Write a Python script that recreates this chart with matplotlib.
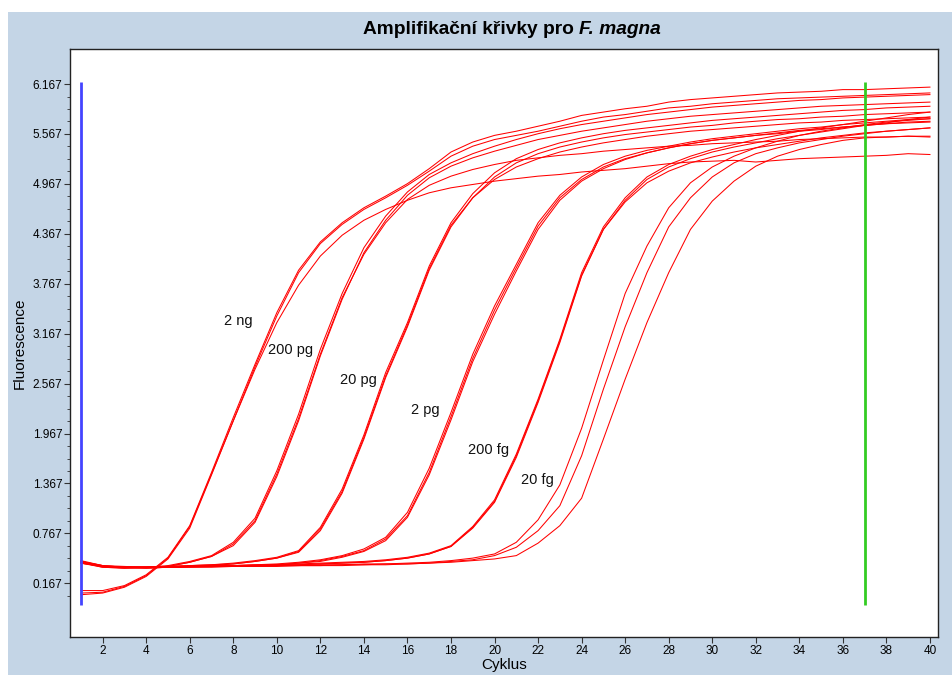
import matplotlib
matplotlib.use("Agg")
import matplotlib.pyplot as plt
from matplotlib.patches import Rectangle
from matplotlib.ticker import FixedLocator

plt.rcParams['font.family'] = ['Liberation Sans', 'DejaVu Sans']

# fluorescence per cycle (cycles 1..40)
ng2_a = [0.08, 0.08, 0.14, 0.27, 0.48, 0.86, 1.50, 2.16, 2.80, 3.42, 3.93, 4.27, 4.50, 4.68, 4.82, 4.97, 5.15, 5.35, 5.47, 5.55,
         5.60, 5.66, 5.72, 5.79, 5.83, 5.87, 5.90, 5.95, 5.98, 6.00, 6.02, 6.04, 6.06, 6.07, 6.08, 6.10, 6.10, 6.11, 6.12, 6.13]
ng2_b = [0.03, 0.05, 0.12, 0.25, 0.46, 0.83, 1.47, 2.12, 2.77, 3.38, 3.90, 4.25, 4.48, 4.66, 4.80, 4.95, 5.12, 5.30, 5.42, 5.50,
         5.55, 5.60, 5.66, 5.72, 5.77, 5.80, 5.84, 5.88, 5.90, 5.93, 5.95, 5.97, 5.99, 6.00, 6.01, 6.02, 6.03, 6.04, 6.05, 6.06]
ng2_c = [0.05, 0.06, 0.13, 0.26, 0.47, 0.85, 1.48, 2.12, 2.74, 3.30, 3.75, 4.10, 4.35, 4.53, 4.66, 4.77, 4.86, 4.92, 4.96, 5.00,
         5.03, 5.06, 5.08, 5.11, 5.13, 5.15, 5.18, 5.21, 5.23, 5.24, 5.25, 5.23, 5.25, 5.27, 5.28, 5.29, 5.30, 5.31, 5.33, 5.32]

pg200_a = [0.43, 0.38, 0.36, 0.36, 0.38, 0.43, 0.50, 0.66, 0.95, 1.52, 2.20, 2.98, 3.65, 4.20, 4.58, 4.87, 5.08, 5.22, 5.33, 5.42,
           5.50, 5.57, 5.63, 5.68, 5.72, 5.76, 5.80, 5.83, 5.86, 5.89, 5.91, 5.93, 5.95, 5.97, 5.98, 6.00, 6.01, 6.02, 6.03, 6.04]
pg200_b = [0.42, 0.37, 0.36, 0.36, 0.37, 0.42, 0.49, 0.62, 0.90, 1.45, 2.12, 2.90, 3.58, 4.14, 4.53, 4.83, 5.04, 5.18, 5.28, 5.36,
           5.43, 5.50, 5.55, 5.60, 5.64, 5.68, 5.72, 5.75, 5.78, 5.80, 5.82, 5.84, 5.86, 5.88, 5.90, 5.91, 5.92, 5.93, 5.94, 5.95]
pg200_c = [0.44, 0.38, 0.37, 0.36, 0.37, 0.42, 0.49, 0.64, 0.92, 1.48, 2.15, 2.92, 3.60, 4.12, 4.50, 4.78, 4.95, 5.06, 5.14, 5.20,
           5.25, 5.28, 5.31, 5.33, 5.36, 5.38, 5.40, 5.42, 5.43, 5.45, 5.46, 5.47, 5.48, 5.50, 5.51, 5.52, 5.53, 5.53, 5.54, 5.54]

pg20_a = [0.43, 0.37, 0.36, 0.36, 0.37, 0.38, 0.39, 0.41, 0.44, 0.48, 0.56, 0.84, 1.30, 1.95, 2.70, 3.30, 3.98, 4.50, 4.85, 5.10,
          5.27, 5.38, 5.46, 5.52, 5.57, 5.61, 5.64, 5.67, 5.70, 5.73, 5.75, 5.77, 5.79, 5.81, 5.83, 5.85, 5.86, 5.88, 5.89, 5.90]
pg20_b = [0.42, 0.37, 0.36, 0.36, 0.37, 0.38, 0.39, 0.40, 0.43, 0.47, 0.54, 0.80, 1.25, 1.90, 2.64, 3.25, 3.93, 4.45, 4.80, 5.05,
          5.22, 5.33, 5.41, 5.47, 5.52, 5.56, 5.59, 5.62, 5.65, 5.67, 5.70, 5.72, 5.74, 5.75, 5.77, 5.78, 5.80, 5.81, 5.82, 5.83]
pg20_c = [0.41, 0.36, 0.35, 0.36, 0.36, 0.37, 0.38, 0.40, 0.43, 0.47, 0.55, 0.82, 1.27, 1.92, 2.66, 3.27, 3.95, 4.47, 4.80, 5.02,
          5.17, 5.27, 5.35, 5.41, 5.46, 5.50, 5.54, 5.57, 5.60, 5.62, 5.64, 5.66, 5.68, 5.70, 5.71, 5.73, 5.74, 5.75, 5.76, 5.77]

pg2_a = [0.42, 0.37, 0.36, 0.36, 0.37, 0.37, 0.38, 0.38, 0.39, 0.40, 0.42, 0.45, 0.50, 0.58, 0.72, 1.02, 1.55, 2.22, 2.92, 3.50,
         4.00, 4.50, 4.83, 5.05, 5.20, 5.30, 5.37, 5.42, 5.47, 5.51, 5.54, 5.57, 5.60, 5.63, 5.65, 5.68, 5.70, 5.72, 5.74, 5.75]
pg2_b = [0.43, 0.38, 0.36, 0.36, 0.36, 0.37, 0.37, 0.38, 0.38, 0.39, 0.41, 0.44, 0.49, 0.56, 0.70, 0.98, 1.50, 2.17, 2.87, 3.45,
         3.96, 4.46, 4.80, 5.02, 5.17, 5.27, 5.34, 5.40, 5.45, 5.49, 5.52, 5.55, 5.58, 5.61, 5.63, 5.65, 5.67, 5.69, 5.71, 5.72]
pg2_c = [0.41, 0.37, 0.36, 0.35, 0.36, 0.37, 0.37, 0.38, 0.38, 0.39, 0.41, 0.43, 0.48, 0.55, 0.68, 0.96, 1.47, 2.13, 2.83, 3.40,
         3.92, 4.42, 4.77, 5.00, 5.15, 5.26, 5.34, 5.40, 5.45, 5.49, 5.52, 5.55, 5.57, 5.60, 5.62, 5.65, 5.67, 5.69, 5.70, 5.71]

fg200_a = [0.42, 0.37, 0.36, 0.36, 0.37, 0.37, 0.38, 0.38, 0.39, 0.39, 0.40, 0.41, 0.42, 0.43, 0.45, 0.48, 0.53, 0.62, 0.85, 1.17,
           1.72, 2.38, 3.10, 3.90, 4.45, 4.80, 5.05, 5.20, 5.30, 5.38, 5.44, 5.50, 5.55, 5.60, 5.64, 5.68, 5.72, 5.76, 5.80, 5.83]
fg200_b = [0.43, 0.37, 0.36, 0.36, 0.36, 0.37, 0.37, 0.38, 0.38, 0.39, 0.39, 0.40, 0.41, 0.42, 0.44, 0.47, 0.52, 0.61, 0.83, 1.14,
           1.68, 2.34, 3.06, 3.86, 4.42, 4.77, 5.02, 5.17, 5.27, 5.35, 5.41, 5.46, 5.51, 5.55, 5.59, 5.63, 5.67, 5.70, 5.74, 5.77]
fg200_c = [0.42, 0.37, 0.35, 0.36, 0.36, 0.37, 0.37, 0.38, 0.38, 0.38, 0.39, 0.40, 0.41, 0.42, 0.44, 0.47, 0.52, 0.61, 0.84, 1.15,
           1.70, 2.36, 3.08, 3.87, 4.42, 4.75, 4.98, 5.12, 5.22, 5.29, 5.35, 5.40, 5.44, 5.48, 5.52, 5.55, 5.58, 5.60, 5.62, 5.64]

fg20_a = [0.42, 0.37, 0.36, 0.36, 0.36, 0.37, 0.37, 0.37, 0.38, 0.38, 0.38, 0.39, 0.39, 0.40, 0.40, 0.41, 0.42, 0.44, 0.47, 0.52,
          0.66, 0.93, 1.35, 2.03, 2.85, 3.65, 4.22, 4.68, 4.98, 5.17, 5.30, 5.40, 5.48, 5.55, 5.60, 5.64, 5.68, 5.71, 5.73, 5.75]
fg20_b = [0.41, 0.37, 0.36, 0.35, 0.36, 0.36, 0.37, 0.37, 0.37, 0.38, 0.38, 0.38, 0.39, 0.39, 0.40, 0.40, 0.41, 0.43, 0.45, 0.50,
          0.60, 0.80, 1.10, 1.70, 2.50, 3.25, 3.90, 4.45, 4.80, 5.05, 5.22, 5.33, 5.40, 5.46, 5.50, 5.54, 5.57, 5.60, 5.62, 5.64]
fg20_c = [0.42, 0.36, 0.35, 0.35, 0.36, 0.36, 0.36, 0.37, 0.37, 0.37, 0.38, 0.38, 0.38, 0.39, 0.39, 0.40, 0.41, 0.42, 0.44, 0.46,
          0.50, 0.65, 0.86, 1.19, 1.90, 2.62, 3.30, 3.90, 4.42, 4.76, 5.00, 5.18, 5.30, 5.38, 5.44, 5.49, 5.52, 5.53, 5.54, 5.53]

curves = [ng2_a, ng2_b, ng2_c, pg200_a, pg200_b, pg200_c, pg20_a, pg20_b, pg20_c,
          pg2_a, pg2_b, pg2_c, fg200_a, fg200_b, fg200_c, fg20_a, fg20_b, fg20_c]

# dilution labels and where they sit (cycle, fluorescence)
labels = ['2 ng', '200 pg', '20 pg', '2 pg', '200 fg', '20 fg']
label_x = [8.22, 10.65, 13.73, 16.80, 19.74, 21.99]
label_y = [3.32, 2.97, 2.61, 2.25, 1.77, 1.41]

start_cycle = 1
end_cycle = 37
yticks = [0.167, 0.767, 1.367, 1.967, 2.567, 3.167, 3.767, 4.367, 4.967, 5.567, 6.167]

fig = plt.figure(figsize=(9.52, 6.75), dpi=100, facecolor='white')
fig.patches.append(Rectangle((8 / 952, 0), 1, 663 / 675, transform=fig.transFigure,
                             facecolor='#c4d5e6', edgecolor='none', zorder=-10))
ax = fig.add_axes([70 / 952, 38 / 675, 868 / 952, 588 / 675])
ax.set_zorder(1)
ax.set_facecolor('white')

for vals in curves:
    ax.plot(range(1, len(vals) + 1), vals, color='#ff0000', lw=0.75)

ax.vlines(start_cycle, -0.09, 6.19, color='#4444ff', lw=2)
ax.vlines(end_cycle, -0.09, 6.19, color='#33cc22', lw=2)

for t, x, y in zip(labels, label_x, label_y):
    ax.text(x, y, t, fontsize=10.5, ha='center', va='center', color='#111111')

ax.set_xlim(0.5, 40.37)
ax.set_ylim(-0.478, 6.588)
ax.set_xticks(range(2, 41, 2))
ax.set_yticks(yticks)
ax.set_yticklabels(['%.3f' % v for v in yticks])
minor = [0.017 + 0.15 * i for i in range(42)]
ax.yaxis.set_minor_locator(FixedLocator(minor))
ax.tick_params(axis='both', which='major', labelsize=8.5, direction='out', length=4, pad=1.5, color='#333333')
ax.tick_params(axis='y', which='minor', direction='out', length=2.5, color='#333333')
for s in ax.spines.values():
    s.set_color('#222222')
    s.set_linewidth(1)

ax.set_xlabel('Cyklus', fontsize=11, labelpad=1)
ax.set_ylabel('Fluorescence', fontsize=11, labelpad=4)

# title: bold with the species name in italics
r = fig.canvas.get_renderer()
t1 = fig.text(0, 0, 'Amplifikační křivky pro', fontsize=13.8, fontweight='bold', va='center')
t2 = fig.text(0, 0, 'F. magna', fontsize=13.8, fontweight='bold', style='italic', va='center')
w1 = t1.get_window_extent(r).width
w2 = t2.get_window_extent(r).width
gap = 5
x0 = 512 - (w1 + gap + w2) / 2
ty = 1 - 30 / 675
t1.set_position((x0 / 952, ty))
t2.set_position(((x0 + w1 + gap) / 952, ty))

fig.savefig('out.png', dpi=100, facecolor=fig.get_facecolor())
